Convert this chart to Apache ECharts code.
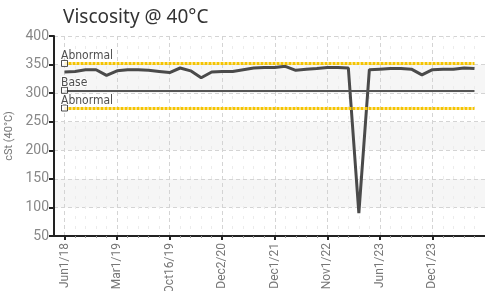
<!DOCTYPE html>
<html><head><meta charset="utf-8">
<script src="https://cdn.jsdelivr.net/npm/echarts@6/dist/echarts.min.js"></script>
<style>html,body{margin:0;padding:0;background:#fff}#c{width:485px;height:291px}</style>
</head><body><div id="c"></div>
<script>
const tickLabels = ['Jun1/18','Mar1/19','Oct16/19','Dec2/20','Dec1/21','Nov1/22','Jun1/23','Dec1/23'];
const labelEvery = 5;
const viscosity = [337,338,341,341,331,339,341,341,340,338,336,344,339,327,337,338,338,341,344,345,
                   345,347,340,342,343,345,345,344,90,341,342,343,343,342,332,341,342,342,344,343];
const refValues = [352, 305, 274];
const refNames = ['Abnormal', 'Base', 'Abnormal'];
const refColors = ['#F5C400', '#555555', '#F5C400'];

// category list: one blank slot before and after the samples
const categories = [' '].concat(viscosity.map((v, i) => (i % labelEvery === 0 ? tickLabels[i / labelEvery] : 's' + i)), ['  ']);
const lineData = [null].concat(viscosity, [null]);
const isLabel = (idx, val) => tickLabels.indexOf(val) >= 0;
const isSample = (idx) => idx >= 1 && idx <= viscosity.length;
const condensed = 'Liberation Sans Narrow, Roboto, sans-serif';

const chart = echarts.init(document.getElementById('c'), null, {renderer: 'canvas'});
chart.setOption({
  animation: false,
  backgroundColor: '#fff',
  title: {text: 'Viscosity @ 40°C', left: 58, top: 3,
    textStyle: {fontFamily: 'Noto Sans', fontSize: 19, fontWeight: 'normal', color: '#333'}},
  grid: {left: 54, right: 0, top: 36, bottom: 55, outerBoundsMode: 'none', containLabel: false},
  xAxis: [{
    type: 'category', data: categories, boundaryGap: false,
    axisLine: {lineStyle: {color: '#222', width: 2}},
    axisTick: {interval: isLabel, length: 4, lineStyle: {color: '#222', width: 2}},
    axisLabel: {interval: isLabel, rotate: 90, color: '#777', fontSize: 12, fontFamily: condensed, margin: 7},
    splitLine: {show: true, interval: isLabel, lineStyle: {color: '#d4d4d4', type: [4, 3]}}
  }, {
    type: 'category', data: categories, boundaryGap: false, position: 'bottom',
    axisLine: {show: false},
    axisTick: {interval: (i) => isSample(i) && !isLabel(i, categories[i]), length: 2, lineStyle: {color: '#999'}},
    axisLabel: {show: false},
    splitLine: {show: true, interval: (i) => isSample(i) && !isLabel(i, categories[i]), lineStyle: {color: '#ececec', type: [3, 7]}}
  }],
  yAxis: {
    type: 'value', min: 50, max: 400, interval: 50,
    name: 'cSt (40°C)', nameLocation: 'middle', nameGap: 31,
    nameTextStyle: {color: '#777', fontSize: 11, fontFamily: condensed},
    axisLine: {show: true, lineStyle: {color: '#222', width: 2}},
    axisTick: {show: true, length: 5, lineStyle: {color: '#222', width: 2}},
    axisLabel: {color: '#888', fontSize: 14, margin: 5, fontFamily: condensed},
    splitLine: {show: true, lineStyle: {color: '#d4d4d4', type: [4, 3]}},
    splitArea: {show: true, areaStyle: {color: ['#ffffff', '#f6f6f6']}}
  },
  series: [{
    type: 'line', data: lineData, xAxisIndex: 0, showSymbol: false, symbol: 'none',
    lineStyle: {color: '#4a4a4a', width: 3}, z: 3,
    markLine: {
      silent: true, symbol: 'none', label: {show: false},
      data: refValues.map((v, k) => [
        {coord: [1, v], lineStyle: {color: refColors[k], width: k === 1 ? 2 : 3, type: k === 1 ? 'solid' : [3, 1]}},
        {coord: [viscosity.length, v]}
      ])
    }
  }, {
    type: 'scatter', xAxisIndex: 0, z: 5,
    data: refValues.map((v, k) => ({value: [1, v], name: refNames[k]})),
    symbol: 'rect', symbolSize: 6,
    itemStyle: {color: '#fff', borderColor: '#222', borderWidth: 1},
    label: {show: true, position: [0, -10], formatter: (p) => p.name, color: '#222', fontSize: 12,
      fontFamily: 'DejaVu Sans Condensed, DejaVu Sans, sans-serif', textBorderColor: '#fff', textBorderWidth: 2}
  }]
});
</script></body></html>
